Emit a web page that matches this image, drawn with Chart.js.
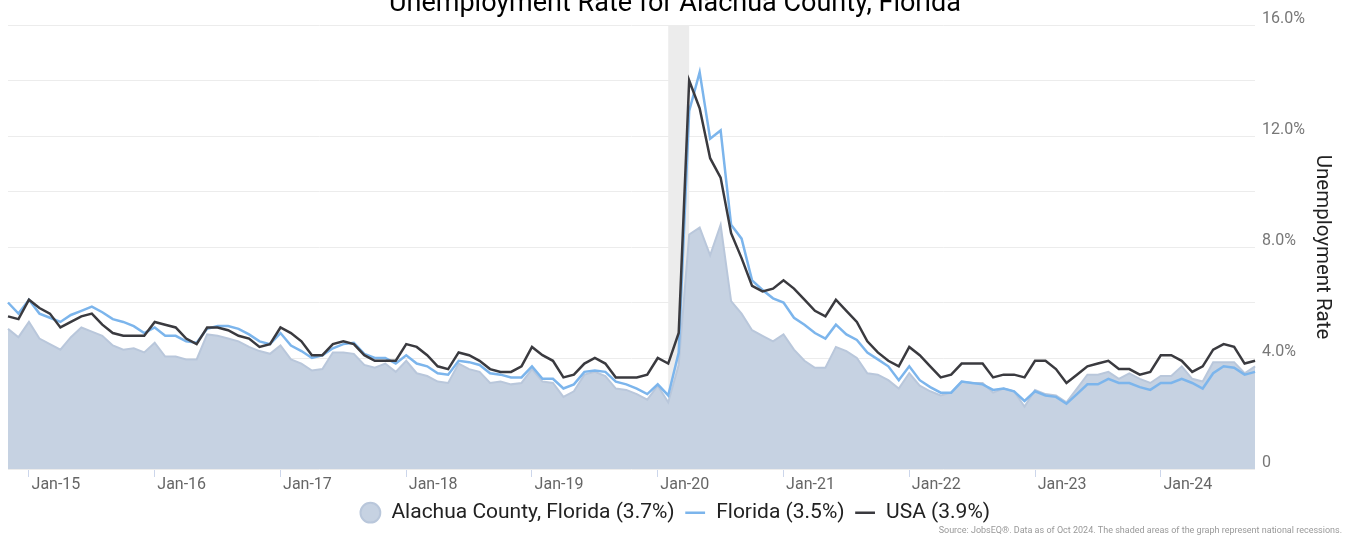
<!DOCTYPE html>
<html>
<head>
<meta charset="utf-8">
<script src="https://cdn.jsdelivr.net/npm/chart.js@4/dist/chart.umd.min.js"></script>
<style>
  html, body { margin: 0; padding: 0; background: #fff; }
  #wrap { width: 1348px; height: 538px; position: relative; }
</style>
</head>
<body>
<div id="wrap"><canvas id="chart"></canvas></div>
<script>
// monthly, Nov 2014 .. Oct 2024
const startYear = 2014, startMonth = 10; // 0-based, Nov
const monthNames = ["Jan","Feb","Mar","Apr","May","Jun","Jul","Aug","Sep","Oct","Nov","Dec"];
let labels = [];
for (let i = 0; i < 120; i++) {
    let m = (startMonth + i) % 12;
    let y = startYear + Math.floor((startMonth + i) / 12);
    labels.push(monthNames[m] + "-" + String(y).slice(2));
}

const alachua = [
    5.05, 4.75, 5.3, 4.7, 4.5, 4.3, 4.75, 5.1, 4.95, 4.8,
    4.45, 4.3, 4.35, 4.2, 4.55, 4.05, 4.05, 3.95, 3.95, 4.85,
    4.8, 4.7, 4.6, 4.4, 4.25, 4.15, 4.45, 3.95, 3.8, 3.55,
    3.6, 4.2, 4.2, 4.15, 3.75, 3.65, 3.8, 3.5, 3.9, 3.45,
    3.35, 3.15, 3.1, 3.8, 3.6, 3.5, 3.1, 3.15, 3.05, 3.1,
    3.6, 3.15, 3.1, 2.6, 2.8, 3.4, 3.5, 3.35, 2.9, 2.85,
    2.7, 2.5, 3.0, 2.4, 3.75, 8.45, 8.7, 7.7, 8.8, 6.05,
    5.6, 5.0, 4.8, 4.6, 4.85, 4.3, 3.9, 3.65, 3.65, 4.4,
    4.25, 4.0, 3.45, 3.4, 3.2, 2.9, 3.45, 3.0, 2.8, 2.65,
    2.75, 3.15, 3.1, 3.1, 2.75, 2.9, 2.8, 2.25, 2.85, 2.7,
    2.65, 2.4, 2.9, 3.4, 3.4, 3.5, 3.25, 3.45, 3.25, 3.1,
    3.35, 3.35, 3.7, 3.25, 3.15, 3.85, 3.85, 3.85, 3.45, 3.7
];
const florida = [
    6.0, 5.6, 6.1, 5.6, 5.45, 5.3, 5.55, 5.7, 5.85, 5.65,
    5.4, 5.3, 5.15, 4.9, 5.1, 4.8, 4.8, 4.6, 4.55, 5.05,
    5.15, 5.15, 5.05, 4.85, 4.6, 4.5, 4.9, 4.45, 4.25, 4.0,
    4.1, 4.35, 4.5, 4.55, 4.15, 4.0, 4.0, 3.8, 4.1, 3.8,
    3.7, 3.45, 3.4, 3.9, 3.85, 3.75, 3.45, 3.4, 3.3, 3.3,
    3.7, 3.25, 3.25, 2.9, 3.05, 3.5, 3.55, 3.5, 3.15, 3.05,
    2.9, 2.7, 3.05, 2.65, 4.2, 12.9, 14.3, 11.9, 12.2, 8.8,
    8.3, 6.8, 6.45, 6.15, 6.0, 5.45, 5.2, 4.9, 4.7, 5.2,
    4.85, 4.65, 4.2, 3.95, 3.7, 3.2, 3.7, 3.2, 2.95, 2.75,
    2.75, 3.15, 3.1, 3.05, 2.85, 2.9, 2.8, 2.45, 2.8, 2.65,
    2.6, 2.35, 2.7, 3.05, 3.05, 3.25, 3.1, 3.1, 2.95, 2.85,
    3.1, 3.1, 3.25, 3.1, 2.9, 3.45, 3.7, 3.65, 3.4, 3.5
];
const usa = [
    5.5, 5.4, 6.1, 5.8, 5.6, 5.1, 5.3, 5.5, 5.6, 5.2,
    4.9, 4.8, 4.8, 4.8, 5.3, 5.2, 5.1, 4.7, 4.5, 5.1,
    5.1, 5.0, 4.8, 4.7, 4.4, 4.5, 5.1, 4.9, 4.6, 4.1,
    4.1, 4.5, 4.6, 4.5, 4.1, 3.9, 3.9, 3.9, 4.5, 4.4,
    4.1, 3.7, 3.6, 4.2, 4.1, 3.9, 3.6, 3.5, 3.5, 3.7,
    4.4, 4.1, 3.9, 3.3, 3.4, 3.8, 4.0, 3.8, 3.3, 3.3,
    3.3, 3.4, 4.0, 3.8, 4.9, 14.0, 13.0, 11.2, 10.5, 8.5,
    7.6, 6.6, 6.4, 6.5, 6.8, 6.5, 6.1, 5.7, 5.5, 6.1,
    5.7, 5.3, 4.6, 4.2, 3.9, 3.7, 4.4, 4.1, 3.7, 3.3,
    3.4, 3.8, 3.8, 3.8, 3.3, 3.4, 3.4, 3.3, 3.9, 3.9,
    3.6, 3.1, 3.4, 3.7, 3.8, 3.9, 3.6, 3.6, 3.4, 3.5,
    4.1, 4.1, 3.9, 3.5, 3.7, 4.3, 4.5, 4.4, 3.8, 3.9
];
const seriesNames = ["Alachua County, Florida (3.7%)", "Florida (3.5%)", "USA (3.9%)"];
// recession months (Feb-20 .. Apr-20)
const recessions = [["Feb-20", "Apr-20"]];

const FONT = "Roboto, 'Noto Sans', sans-serif";

// shaded recession bands behind the series
const recessionPlugin = {
    id: "recessions",
    beforeDatasetsDraw(chart) {
        let ctx = chart.ctx, xs = chart.scales.x, area = chart.chartArea;
        ctx.save();
        ctx.fillStyle = "#ececec";
        recessions.forEach(r => {
            let x1 = xs.getPixelForValue(labels.indexOf(r[0]));
            let x2 = xs.getPixelForValue(labels.indexOf(r[1]));
            ctx.fillRect(x1, area.top, x2 - x1, area.bottom - area.top);
        });
        ctx.restore();
    }
};

new Chart(document.getElementById("chart"), {
    type: "line",
    data: {
        labels: labels,
        datasets: [
            {
                label: seriesNames[0],
                data: alachua,
                fill: "origin",
                backgroundColor: "rgb(198,210,226)",
                borderColor: "rgb(185,199,219)",
                borderWidth: 2,
                pointRadius: 0,
                pointStyle: "circle",
                tension: 0,
                order: 3
            },
            {
                label: seriesNames[1],
                data: florida,
                fill: false,
                borderColor: "#7cb5ec",
                backgroundColor: "#7cb5ec",
                borderWidth: 2.5,
                pointRadius: 0,
                pointStyle: "line",
                tension: 0,
                order: 2
            },
            {
                label: seriesNames[2],
                data: usa,
                fill: false,
                borderColor: "#3a3a3f",
                backgroundColor: "#3a3a3f",
                borderWidth: 2.5,
                pointRadius: 0,
                pointStyle: "line",
                tension: 0,
                order: 1
            }
        ]
    },
    options: {
        responsive: true,
        maintainAspectRatio: false,
        animation: false,
        layout: { padding: { left: 8, right: 6, top: 0, bottom: 0 } },
        plugins: {
            title: {
                display: true,
                text: "Unemployment Rate for Alachua County, Florida",
                color: "#000",
                font: { family: FONT, size: 27, weight: "normal" },
                padding: { top: -12, bottom: 4.6 }
            },
            subtitle: {
                display: true,
                position: "bottom",
                align: "end",
                text: "Source: JobsEQ®. Data as of Oct 2024. The shaded areas of the graph represent national recessions.",
                color: "#999",
                font: { family: FONT, size: 9 },
                padding: { top: -8, bottom: 2 }
            },
            legend: {
                position: "bottom",
                reverse: true,
                labels: {
                    usePointStyle: true,
                    boxHeight: 14,
                    color: "#222",
                    font: { family: FONT, size: 21 },
                    padding: 10
                }
            },
            tooltip: { enabled: false }
        },
        scales: {
            x: {
                offset: false,
                border: { display: false },
                grid: {
                    drawOnChartArea: false,
                    tickLength: 8,
                    color: ctx => (ctx.tick && String(labels[ctx.tick.value]).startsWith("Jan")) ? "#ccd6eb" : "rgba(0,0,0,0)"
                },
                ticks: {
                    autoSkip: false,
                    maxRotation: 0,
                    labelOffset: 27,
                    padding: -2,
                    color: "#666",
                    font: { family: FONT, size: 16 },
                    callback: function (value) {
                        let l = labels[value];
                        return l.startsWith("Jan") ? l : "";
                    }
                }
            },
            y: {
                position: "right",
                min: 0,
                max: 16,
                border: { display: false },
                grid: { color: "#ececec", lineWidth: 1, drawTicks: false },
                ticks: {
                    stepSize: 2,
                    padding: 7,
                    labelOffset: -6,
                    color: "#777",
                    font: { family: FONT, size: 16 },
                    callback: v => v % 4 === 0 ? (v === 0 ? "0" : v.toFixed(1) + "%") : ""
                },
                title: {
                    display: true,
                    text: "Unemployment Rate",
                    color: "#222",
                    font: { family: FONT, size: 20.5 },
                    padding: { top: 7.7, bottom: -2.3 }
                }
            }
        }
    },
    plugins: [recessionPlugin]
});
</script>
</body>
</html>
